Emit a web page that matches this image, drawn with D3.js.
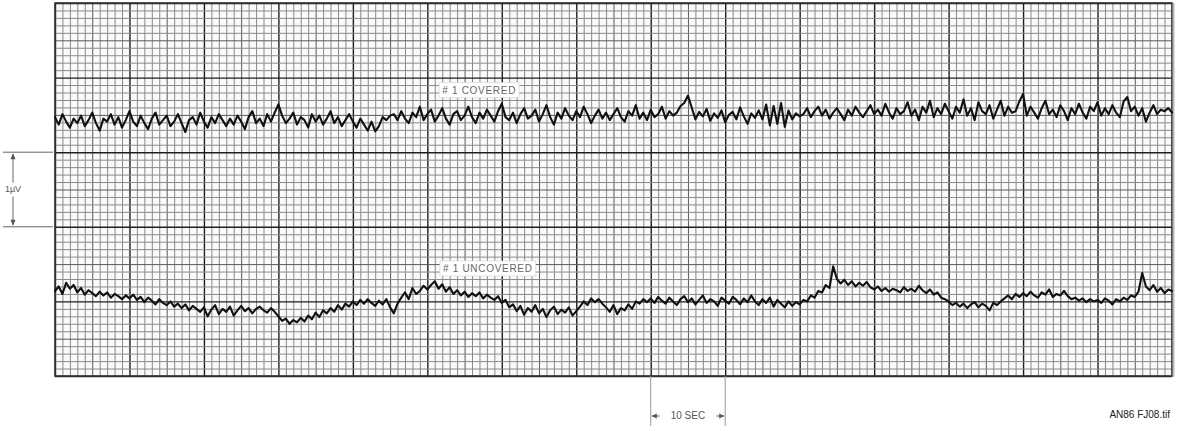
<!DOCTYPE html>
<html><head><meta charset="utf-8">
<script src="https://cdn.jsdelivr.net/npm/d3@7"></script>
<style>
html,body{margin:0;padding:0;background:#fff;}
svg{display:block;}
</style></head>
<body>
<script>
// ---- data (time in s, signal in µV on a 0..5 µV chart span) ----
const sampleStep = 0.5;          // seconds per sample
const timeSpan = [0, 150];       // seconds across the strip
const voltSpan = [0, 5];         // µV across the strip
const traceLabels = ["# 1 COVERED", "# 1 UNCOVERED"];
const scaleLabel = "1µV";
const timeLabel = "10 SEC";
const fileLabel = "AN86 FJ08.tif";

const covered = [
3.47,3.37,3.51,3.41,3.33,3.45,3.39,3.49,3.35,3.43,3.53,3.39,3.29,3.45,3.41,3.51,3.37,3.47,3.33,3.43,
3.55,3.41,3.35,3.49,3.39,3.31,3.45,3.53,3.37,3.43,3.49,3.35,3.41,3.51,3.39,3.27,3.43,3.47,3.37,3.53,
3.41,3.33,3.47,3.39,3.51,3.43,3.35,3.45,3.37,3.49,3.41,3.31,3.47,3.55,3.39,3.45,3.35,3.51,3.41,3.53,
3.64,
3.49,3.39,3.45,3.53,3.37,3.47,3.43,3.33,3.51,3.41,3.49,3.37,3.45,3.55,3.39,3.47,3.35,3.43,3.51,3.41,
3.33,3.45,3.37,3.29,3.41,3.28,3.35,3.47,3.43,3.49,
3.51,3.43,3.55,3.45,3.39,3.53,3.47,3.61,3.43,3.51,3.57,3.41,3.49,3.59,3.45,3.37,3.51,3.55,3.43,3.49,
3.61,3.47,3.39,3.53,3.45,3.57,3.49,3.41,3.55,3.65,3.47,3.43,3.53,3.39,3.51,3.59,3.45,3.49,3.57,3.41,
3.51,3.63,3.47,3.37,3.53,3.45,3.59,3.49,3.43,3.55,3.47,3.61,3.51,3.39,3.49,3.57,3.45,3.53,3.43,3.51,
3.59,3.47,3.41,3.55,3.49,3.63,3.45,3.53,3.43,3.57,3.47,3.51,3.61,3.45,3.55,3.49,3.53,3.62,3.66,3.76,
3.60,3.44,3.54,3.48,3.58,3.42,3.52,3.46,3.56,3.40,3.50,3.54,3.44,3.60,3.48,3.38,3.52,3.46,3.56,3.44,
3.64,3.36,3.62,3.38,3.66,3.34,3.56,3.44,3.52,3.48,
3.51,3.59,3.47,3.55,3.61,3.49,3.57,3.45,3.53,3.59,3.51,3.43,3.57,3.49,3.61,3.53,3.47,3.55,3.63,3.51,
3.57,3.49,3.65,3.53,3.45,3.59,3.51,3.55,3.67,3.49,3.57,3.43,3.61,3.53,3.69,3.47,3.59,3.51,3.65,3.55,
3.45,3.61,3.53,3.71,3.49,3.59,3.43,3.67,3.55,3.51,3.63,3.45,3.57,3.69,3.49,3.61,3.53,3.55,3.68,3.78,
3.49,3.61,3.53,3.45,3.59,3.69,3.51,3.57,3.47,3.63,3.55,3.43,3.59,3.51,3.65,3.53,3.45,3.61,3.55,3.67,
3.49,3.59,3.51,3.63,3.53,3.47,3.68,3.74,3.55,3.61,3.49,3.59,3.41,3.53,3.63,3.51,3.57,3.55,3.59,3.53
];

const uncovered = [
1.14,1.20,1.10,1.25,1.17,1.22,1.12,1.18,1.09,1.15,1.11,1.07,1.13,1.08,1.12,1.05,1.10,1.07,1.03,1.08,
1.04,1.09,1.02,1.06,0.99,1.05,1.01,0.96,1.03,0.98,0.95,1.00,0.93,0.97,0.91,0.96,0.88,0.94,0.90,0.86,
0.92,0.80,0.89,0.95,0.83,0.90,0.86,0.93,0.81,0.88,0.94,0.87,0.91,0.84,0.90,0.93,0.88,0.85,0.91,0.86,
0.80,0.74,0.77,0.70,0.75,0.72,0.78,0.73,0.81,0.76,0.85,0.79,0.88,0.84,0.91,0.86,0.95,0.89,0.97,0.93,
1.00,0.95,1.02,0.97,1.03,0.98,0.94,1.01,0.96,1.03,0.92,0.84,0.97,1.05,1.12,1.03,1.18,1.10,1.14,1.21,
1.16,1.22,1.27,1.17,1.23,1.13,1.19,1.10,1.15,1.08,1.13,1.06,1.11,1.07,1.12,1.04,1.09,1.05,1.02,1.07,
0.98,1.02,0.92,0.96,0.87,0.94,0.82,0.91,0.86,0.95,0.84,0.90,0.79,0.88,0.93,0.83,0.89,0.85,0.92,0.81,
0.87,0.93,1.00,0.95,1.04,0.99,1.03,0.97,0.92,0.86,0.95,0.83,0.91,0.88,0.96,0.90,1.00,0.97,1.03,0.99,
1.04,0.98,1.06,1.01,0.97,1.05,1.00,0.95,1.03,1.07,0.99,1.04,0.96,1.02,1.08,0.98,1.03,1.00,0.94,1.05,
1.01,0.97,1.06,1.02,0.96,1.04,0.99,1.08,1.00,0.95,1.03,0.98,1.05,0.93,1.02,0.97,0.92,1.00,0.94,0.99,
0.96,1.02,1.00,1.08,1.05,1.14,1.12,1.22,1.18,1.47,1.30,1.24,1.29,1.22,1.27,1.20,1.25,1.21,1.26,1.19,
1.16,1.20,1.14,1.18,1.13,1.17,1.15,1.12,1.19,1.14,1.17,1.13,1.21,1.15,1.11,1.16,1.09,1.12,1.05,1.03,
1.00,0.95,0.98,0.93,0.97,0.91,0.96,0.99,0.92,0.97,0.94,0.88,0.98,0.95,1.00,1.04,1.08,1.03,1.10,1.06,
1.11,1.07,1.13,1.08,1.05,1.12,1.09,1.16,1.06,1.10,1.08,1.14,1.07,1.03,1.05,1.01,1.04,0.99,1.03,1.00,
1.02,0.98,1.04,1.01,0.96,1.03,1.00,1.05,1.02,1.08,1.06,1.13,1.38,1.20,1.15,1.22,1.13,1.18,1.11,1.16,
1.14
];

// ---- layout ----
const W = 1178, H = 431;
const svg = d3.select("body").append("svg").attr("width", W).attr("height", H)
  .style("font-family", "'Liberation Sans', Arial, sans-serif");

const x = d3.scaleLinear().domain(timeSpan).range([55, 1172]);
const y = d3.scaleLinear().domain(voltSpan).range([376, 3]);

svg.append("rect").attr("x", x(0)).attr("y", y(5)).attr("width", x(150) - x(0)).attr("height", y(0) - y(5))
  .attr("fill", "#fafafa");

const gridX = d3.range(timeSpan[0], timeSpan[1] + 1, 1);
const gridY = d3.range(0, 51, 1).map(d => d / 10);

function styleGrid(sel, isMajor, isMid) {
  sel.selectAll(".tick line")
    .attr("stroke", d => isMajor(d) ? "#1e1e1e" : isMid(d) ? "#5a5a5a" : "#8a8a8a")
    .attr("stroke-width", d => isMajor(d) ? 1.4 : 1);
  sel.select(".domain").remove();
}

const gx = svg.append("g").attr("transform", `translate(0,${y(0)})`)
  .call(d3.axisBottom(x).tickValues(gridX).tickSize(-(y(0) - y(5))).tickFormat(""));
styleGrid(gx, d => d % 10 === 0, d => d % 5 === 0);

const gy = svg.append("g").attr("transform", `translate(${x(0)},0)`)
  .call(d3.axisLeft(y).tickValues(gridY).tickSize(-(x(150) - x(0))).tickFormat(""));
styleGrid(gy, d => Math.abs(d - Math.round(d)) < 1e-6, d => Math.abs(d * 2 - Math.round(d * 2)) < 1e-6);

gx.selectAll(".tick").filter(d => d % 10 === 0).raise();
gy.selectAll(".tick").filter(d => Math.abs(d - Math.round(d)) < 1e-6).raise();

svg.append("rect").attr("x", x(0)).attr("y", y(5)).attr("width", x(150) - x(0)).attr("height", y(0) - y(5))
  .attr("fill", "none").attr("stroke", "#333").attr("stroke-width", 1.6);
svg.append("line").attr("x1", x(150) + 1.5).attr("x2", x(150) + 1.5).attr("y1", y(5)).attr("y2", y(0) + 1)
  .attr("stroke", "#bbb").attr("stroke-width", 2);

function boxedLabel(txt, tx, vy, size) {
  const g = svg.append("g");
  const t = g.append("text").attr("x", x(tx)).attr("y", y(vy)).text(txt)
    .attr("font-size", size).attr("fill", "#666").attr("letter-spacing", 0.7)
    .attr("dominant-baseline", "middle");
  const b = t.node().getBBox();
  g.insert("rect", "text").attr("x", b.x - 3).attr("y", b.y - 2).attr("width", b.width + 6).attr("height", b.height + 4)
    .attr("fill", "#fff").attr("stroke", "#ddd").attr("stroke-width", 0.8);
}
boxedLabel(traceLabels[0], 52, 3.82, 10);
boxedLabel(traceLabels[1], 52.1, 1.43, 10);

const line = d3.line().x((d, i) => x(i * sampleStep)).y(d => y(d)).curve(d3.curveLinear);
[covered, uncovered].forEach(series => {
  svg.append("path").datum(series).attr("d", line)
    .attr("fill", "none").attr("stroke", "#111").attr("stroke-width", 2.1)
    .attr("stroke-linejoin", "round").attr("stroke-linecap", "round");
});

const sb = svg.append("g").attr("stroke", "#666").attr("stroke-width", 1);
sb.append("line").attr("x1", 3).attr("x2", x(0) - 2).attr("y1", y(3)).attr("y2", y(3));
sb.append("line").attr("x1", 3).attr("x2", x(0) - 2).attr("y1", y(2)).attr("y2", y(2));
sb.append("line").attr("x1", 13).attr("x2", 13).attr("y1", y(3) + 2).attr("y2", y(2) - 2);
const arr = (xx, yy, dir) => `M${xx},${yy} L${xx - 2.5},${yy + 6 * dir} L${xx + 2.5},${yy + 6 * dir} Z`;
svg.append("path").attr("d", arr(13, y(3) + 1, 1)).attr("fill", "#555");
svg.append("path").attr("d", arr(13, y(2) - 1, -1)).attr("fill", "#555");
svg.append("rect").attr("x", 3).attr("y", y(2.5) - 7).attr("width", 20).attr("height", 14).attr("fill", "#fff");
svg.append("text").attr("x", 13).attr("y", y(2.5)).attr("text-anchor", "middle").attr("dominant-baseline", "middle")
  .attr("font-size", 9).attr("fill", "#555").text(scaleLabel);

const tm = svg.append("g").attr("stroke", "#999").attr("stroke-width", 1);
tm.append("line").attr("x1", x(80)).attr("x2", x(80)).attr("y1", y(0)).attr("y2", 426);
tm.append("line").attr("x1", x(90)).attr("x2", x(90)).attr("y1", y(0)).attr("y2", 426);
tm.append("line").attr("x1", x(80) + 1).attr("x2", x(80) + 9).attr("y1", 416).attr("y2", 416).attr("stroke", "#666");
tm.append("line").attr("x1", x(90) - 9).attr("x2", x(90) - 1).attr("y1", 416).attr("y2", 416).attr("stroke", "#666");
svg.append("path").attr("d", `M${x(80) + 1},416 L${x(80) + 6},413.5 L${x(80) + 6},418.5 Z`).attr("fill", "#555");
svg.append("path").attr("d", `M${x(90) - 1},416 L${x(90) - 6},413.5 L${x(90) - 6},418.5 Z`).attr("fill", "#555");
svg.append("text").attr("x", x(85)).attr("y", 416).attr("text-anchor", "middle").attr("dominant-baseline", "middle")
  .attr("font-size", 10).attr("fill", "#555").text(timeLabel);

svg.append("text").attr("x", 1170).attr("y", 415).attr("text-anchor", "end").attr("dominant-baseline", "middle")
  .attr("font-size", 10).attr("fill", "#222").attr("font-family", "'Liberation Sans Narrow', 'Liberation Sans', Arial, sans-serif")
  .text(fileLabel);
</script>
</body></html>
